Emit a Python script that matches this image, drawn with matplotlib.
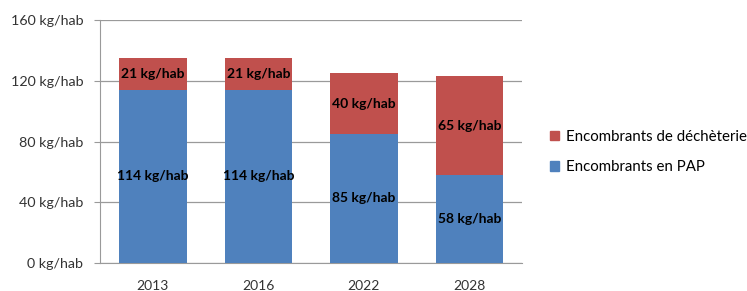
import matplotlib
matplotlib.use("Agg")
import matplotlib.pyplot as plt
from matplotlib.patches import Patch

plt.rcParams['font.family'] = ['Lato', 'DejaVu Sans']

years = ["2013", "2016", "2022", "2028"]
pap = [114, 114, 85, 58]
decheterie = [21, 21, 40, 65]
yticks = [0, 40, 80, 120, 160]
ytick_labels = [f"{v} kg/hab" for v in yticks]
series_names = ["Encombrants de déchèterie", "Encombrants en PAP"]

blue = "#4F81BD"
red = "#C0504D"

fig = plt.figure(figsize=(7.47, 2.91), dpi=100)
ax = fig.add_axes([0.1339, 0.0962, 0.5650, 0.8350])

x = range(len(years))
b1 = ax.bar(x, pap, width=0.64, color=blue, zorder=3)
b2 = ax.bar(x, decheterie, width=0.64, bottom=pap, color=red, zorder=3)

for i in x:
    ax.text(i, pap[i] / 2, f"{pap[i]} kg/hab", ha="center", va="center",
            fontsize=10, fontweight="bold", color="black", zorder=4)
    ax.text(i, pap[i] + decheterie[i] / 2, f"{decheterie[i]} kg/hab", ha="center",
            va="center", fontsize=10, fontweight="bold", color="black", zorder=4)

ax.set_ylim(0, 160)
ax.set_xlim(-0.5, len(years) - 0.5)
ax.set_yticks(yticks)
ax.set_yticklabels(ytick_labels, fontsize=10.3, color="#333333")
ax.set_xticks(list(x))
ax.set_xticklabels(years, fontsize=10, color="#333333")
ax.yaxis.grid(True, color="#9a9a9a", linewidth=0.9, zorder=0)
ax.set_axisbelow(True)
for s in ["top", "right"]:
    ax.spines[s].set_visible(False)
ax.spines["left"].set_color("#9a9a9a")
ax.spines["bottom"].set_color("#9a9a9a")
ax.tick_params(axis="y", length=4, color="#9a9a9a", pad=8)
ax.tick_params(axis="x", length=0, pad=12)

handles = [Patch(color=red), Patch(color=blue)]
fig.legend(handles, series_names, loc="center left", bbox_to_anchor=(0.718, 0.478),
           frameon=False, fontsize=10.8, handlelength=0.6, handleheight=0.6,
           labelspacing=1.1, handletextpad=0.5)

fig.savefig("out.png", dpi=100)
